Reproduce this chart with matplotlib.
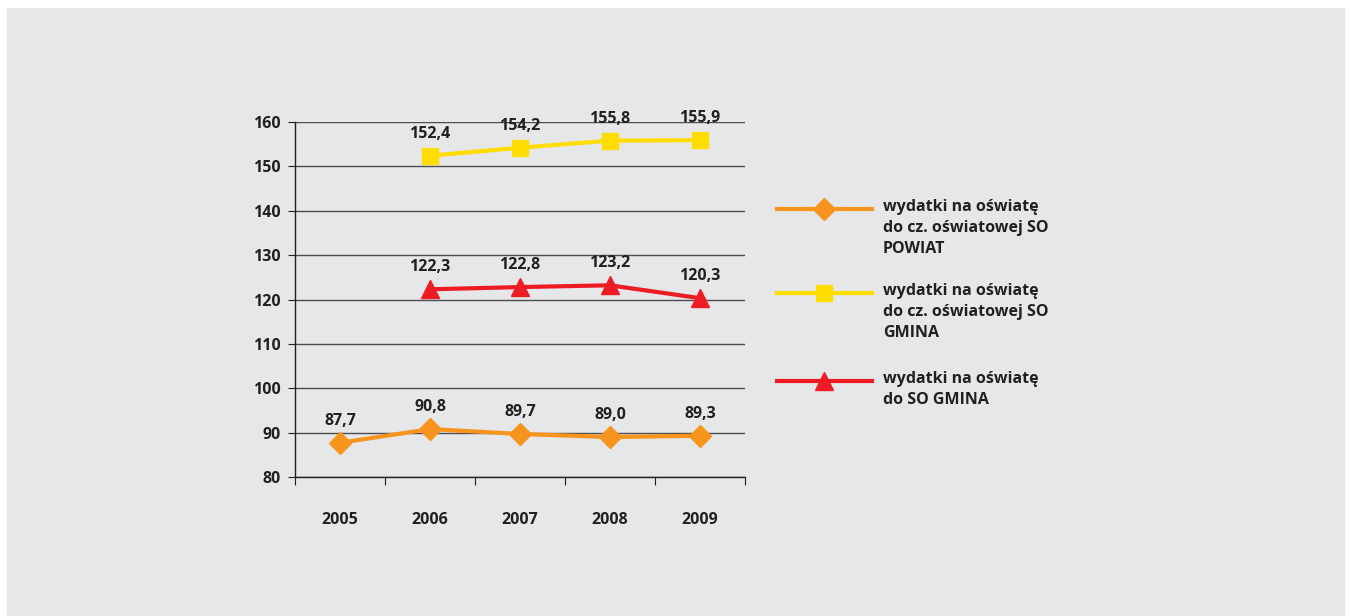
import matplotlib.pyplot as plt
from matplotlib.lines import Line2D
from matplotlib.patches import Rectangle
import numpy as np

# dane
years = ["2005", "2006", "2007", "2008", "2009"]
powiat = [87.7, 90.8, 89.7, 89.0, 89.3]
gmina_cz = [np.nan, 152.4, 154.2, 155.8, 155.9]
gmina = [np.nan, 122.3, 122.8, 123.2, 120.3]
labels = [
    "wydatki na oświatę\ndo cz. oświatowej SO\nPOWIAT",
    "wydatki na oświatę\ndo cz. oświatowej SO\nGMINA",
    "wydatki na oświatę\ndo SO GMINA",
]

bg = "#e6e7e8"
txt = "#231f20"
colors = ["#f7941d", "#ffdd00", "#ed1c24"]
markers = ["D", "s", "^"]
msizes = [11, 11, 13]
fs = 11.5

plt.rcParams['font.family'] = ['Open Sans', 'DejaVu Sans']
plt.rcParams['font.weight'] = 'bold'

fig = plt.figure(figsize=(13.5, 6.16), dpi=100)
fig.patch.set_facecolor("white")
fig.add_artist(Rectangle((7 / 1350, 0), 1338 / 1350, 608 / 616,
                         transform=fig.transFigure, facecolor=bg,
                         edgecolor="none", zorder=-10))

ax = fig.add_axes([295 / 1350, 1 - 477 / 616, 450 / 1350, 355 / 616])
ax.set_facecolor(bg)

x = np.arange(len(years))
for vals, c, m, ms in zip([powiat, gmina_cz, gmina], colors, markers, msizes):
    ax.plot(x, vals, color=c, lw=3, marker=m, markersize=ms, zorder=3)
    for xi, v in zip(x, vals):
        if not np.isnan(v):
            ax.annotate(f"{v:.1f}".replace(".", ","), (xi, v),
                        xytext=(0, 10), textcoords="offset points",
                        ha="center", va="bottom", fontsize=fs,
                        color=txt, fontweight="bold")

ax.set_xlim(-0.5, 4.5)
ax.set_ylim(80, 160)
ax.set_yticks(np.arange(80, 161, 10))
ax.yaxis.grid(True, color="#4d4d4f", lw=1)
ax.set_axisbelow(True)

ax.set_xticks(np.arange(-0.5, 4.6, 1))
ax.set_xticklabels([])
ax.set_xticks(x, minor=True)
ax.set_xticklabels(years, minor=True)
ax.tick_params(axis="x", which="major", length=6, color=txt, direction="out")
ax.tick_params(axis="x", which="minor", length=0, pad=25, labelsize=fs,
               labelcolor=txt)
ax.tick_params(axis="y", length=5, color=txt, pad=5, labelsize=fs,
               labelcolor=txt)

for s in ["top", "right"]:
    ax.spines[s].set_visible(False)
for s in ["left", "bottom"]:
    ax.spines[s].set_color(txt)
    ax.spines[s].set_linewidth(1)

# legenda
leg_y = [209, 293, 381]
for lab, c, m, ms, yy in zip(labels, colors, markers, msizes, leg_y):
    yf = 1 - yy / 616
    fig.add_artist(Line2D([777 / 1350, 872 / 1350], [yf, yf], color=c, lw=3,
                          transform=fig.transFigure))
    fig.add_artist(Line2D([824 / 1350], [yf], color=c, marker=m,
                          markersize=ms, transform=fig.transFigure))
    fig.text(883 / 1350, yf + 10 / 616, lab, ha="left", va="top",
             fontsize=fs, color=txt, linespacing=1.4,
             fontweight="bold")

fig.savefig("out.png", dpi=100)
